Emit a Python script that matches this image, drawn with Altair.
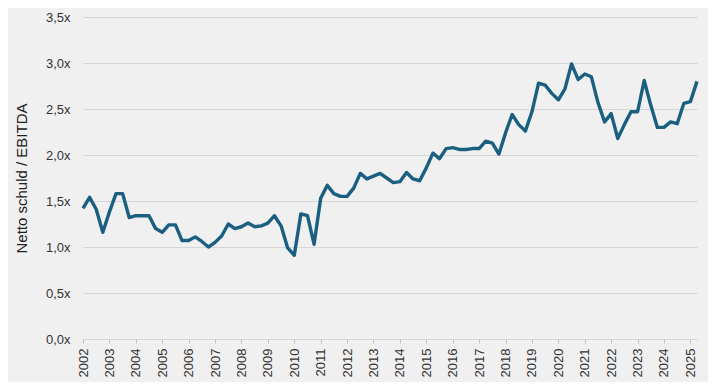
import altair as alt
import pandas as pd

start_year = 2002
values = [1.42, 1.54, 1.41, 1.16, 1.38, 1.58, 1.58, 1.32, 1.34, 1.34,
          1.34, 1.20, 1.16, 1.24, 1.24, 1.07, 1.07, 1.11, 1.06, 1.00,
          1.05, 1.12, 1.25, 1.20, 1.22, 1.26, 1.22, 1.23, 1.26, 1.34,
          1.23, 0.99, 0.91, 1.36, 1.34, 1.03, 1.53, 1.67, 1.58, 1.55,
          1.55, 1.64, 1.80, 1.74, 1.77, 1.80, 1.75, 1.70, 1.71, 1.81,
          1.74, 1.72, 1.86, 2.02, 1.96, 2.07, 2.08, 2.06, 2.06, 2.07,
          2.07, 2.15, 2.13, 2.01, 2.24, 2.44, 2.33, 2.26, 2.47, 2.78,
          2.76, 2.67, 2.60, 2.72, 2.99, 2.82, 2.88, 2.85, 2.57, 2.36,
          2.45, 2.18, 2.33, 2.47, 2.47, 2.81, 2.54, 2.30, 2.30, 2.36,
          2.34, 2.56, 2.58, 2.80]
year_ticks = list(range(2002, 2026))
y_ticks = [0, 0.5, 1.0, 1.5, 2.0, 2.5, 3.0, 3.5]

df = pd.DataFrame({
    "t": [start_year + i / 4 for i in range(len(values))],
    "v": values,
})

font = "Liberation Sans"

chart = alt.Chart(df).mark_line(
    color="#1a5f80", strokeWidth=3.4, strokeJoin="round"
).encode(
    x=alt.X("t:Q",
            scale=alt.Scale(domain=[2002, 2025.25], nice=False, zero=False),
            axis=alt.Axis(values=year_ticks, format="d", labelAngle=270,
                          grid=False, domain=False, ticks=True, tickSize=4,
                          tickColor="#bdbdbd", labelPadding=5,
                          labelFontSize=13, labelColor="#333333",
                          labelFont=font, title=None)),
    y=alt.Y("v:Q",
            scale=alt.Scale(domain=[0, 3.5], nice=False),
            axis=alt.Axis(values=y_ticks,
                          labelExpr="replace(format(datum.value, '.1f'), '.', ',') + 'x'",
                          grid=True, gridColor="#d6d6d6", gridWidth=1,
                          domain=False, ticks=False, labelPadding=13,
                          labelFontSize=13, labelColor="#333333", labelFont=font,
                          title="Netto schuld / EBITDA", titleFontSize=15,
                          titleFontWeight="normal", titleColor="#222222",
                          titleFont=font, titlePadding=16)),
).properties(
    width=614, height=322,
    background="#f0f0f0",
    autosize=alt.AutoSizeParams(type="none"),
    padding={"left": 75, "top": 9, "right": 11, "bottom": 43},
).configure_view(stroke=None)

chart.save("out.html", embed_options={"renderer": "svg", "actions": False})
